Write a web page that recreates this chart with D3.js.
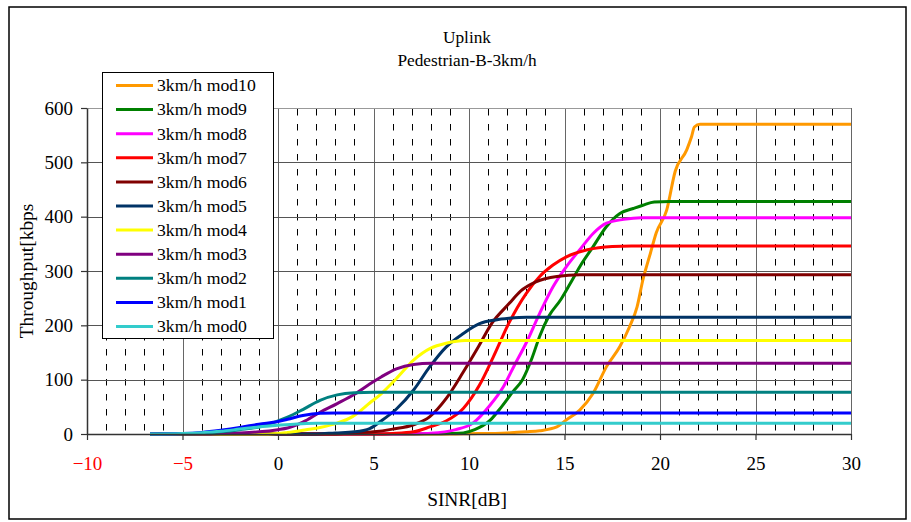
<!DOCTYPE html>
<html>
<head>
<meta charset="utf-8">
<script src="https://cdn.jsdelivr.net/npm/d3@7"></script>
<style>
  body { margin: 0; background: #fff; }
  svg text { font-family: "Liberation Serif", "Times New Roman", serif; }
</style>
</head>
<body>
<div id="chart-area"></div>
<script>
// series data: [SINR dB, throughput kbps]
const mod10 = [[-6.7,0],[9,0],[10,0.5],[12,2],[13,4],[13.7,6],[14.6,13],[15.1,26],[15.8,44],[16.5,75],[17.2,124],[17.9,161],[18.4,197],[18.8,234],[19.1,283],[19.5,333],[19.8,370],[20.35,412],[20.8,484],[21.4,523],[21.65,547],[21.8,565],[22.1,570],[30,570]];
const mod9 = [[-6.7,0],[7,0],[8,0.5],[9,1],[9.7,2],[10.3,8],[11.1,25],[11.7,50],[12.3,78],[12.8,100],[13.3,140],[13.7,180],[14.2,218],[14.8,247],[15.3,277],[15.8,308],[16.5,345],[17.2,382],[17.9,406],[18.6,415],[19.1,421],[19.7,427],[20.5,428],[30,428]];
const mod8 = [[-6.7,0],[6,0],[7,0.5],[8,1.5],[9.3,8],[10.2,20],[11.1,53],[11.8,87],[12.4,128],[13,168],[13.7,222],[14.4,271],[15.1,308],[15.8,339],[16.5,369],[17.2,388],[18.1,395],[19,398],[30,398]];
const mod7 = [[-6.7,0],[5,0],[6,1],[7.1,4],[7.95,13],[8.8,24],[9.7,47],[10.55,90],[11.25,140],[12.1,205],[13,259],[13.7,290],[14.4,311],[15.1,326],[16.2,339],[17.5,345],[18.5,346],[30,346]];
const mod6 = [[-6.7,0],[3,0],[4,2],[5,4],[6,9],[7.1,17],[7.95,32],[8.8,65],[9.7,114],[10.5,161],[11.2,204],[12.1,240],[12.7,263],[13.5,280],[14.6,290],[15.8,293],[30,293]];
const mod5 = [[-6.7,0],[2,0],[3,2],[4,4],[4.8,10],[5.4,24],[6.2,46],[7.1,81],[7.95,124],[8.8,160],[9.7,185],[10.55,203],[11.4,210],[12.1,213],[13,215],[30,215]];
const mod4 = [[-6.7,0],[-1,0],[0,1],[0.5,3],[1.3,7],[2.2,12],[3.1,20],[3.9,32],[4.8,57],[5.4,74],[6.2,102],[7.1,136],[8,158],[8.8,167],[9.8,172],[30,172]];
const mod3 = [[-6.7,0],[-4,0],[-3,1],[-2,2],[-1,4],[0,8],[0.5,11],[1.3,22],[2.2,40],[3.1,56],[4,73],[4.8,92],[5.4,105],[6.2,120],[7.1,128],[8,130],[30,130]];
const mod2 = [[-6.7,0],[-5,0.5],[-4,1],[-3,4],[-2,8],[-1,13],[0,24],[0.5,31],[1.3,45],[2.2,62],[3.1,72],[4,76],[5,77],[30,77]];
const mod1 = [[-6.7,0],[-5,1],[-4,3],[-3,7],[-2,12],[-1,18],[0,23],[0.5,27],[1.3,34],[2.2,38],[3,38.5],[30,38.5]];
const mod0 = [[-6.7,0],[-5,1],[-4,2.5],[-3,5],[-2,9],[-1,13],[0,16],[1,18.5],[2,19.7],[3,20],[30,20]];

const seriesNames = ["3km/h mod10","3km/h mod9","3km/h mod8","3km/h mod7","3km/h mod6","3km/h mod5","3km/h mod4","3km/h mod3","3km/h mod2","3km/h mod1","3km/h mod0"];
const seriesColors = ["#FF9900","#008000","#FF00FF","#FF0000","#800000","#003366","#FFFF00","#800080","#008080","#0000FF","#33CCCC"];
const seriesData = [mod10, mod9, mod8, mod7, mod6, mod5, mod4, mod3, mod2, mod1, mod0];

const xTicks = [-10,-5,0,5,10,15,20,25,30];
const yTicks = [0,100,200,300,400,500,600];
const redTicks = [-10,-5];

const W = 911, H = 522;
const plot = {left: 87, right: 851, top: 108, bottom: 434};

let svg = d3.select("#chart-area")
    .append("svg")
    .attr("width", W)
    .attr("height", H);

svg.append("rect").attr("width", W).attr("height", H).attr("fill", "#fff");

// outer chart frame
svg.append("rect")
    .attr("x", 9).attr("y", 7)
    .attr("width", 897).attr("height", 512)
    .attr("fill", "none").attr("stroke", "#000").attr("stroke-width", 1.5);

let x = d3.scaleLinear().domain([-10, 30]).range([plot.left, plot.right]);
let y = d3.scaleLinear().domain([0, 600]).range([plot.bottom, plot.top]);

// minor dashed verticals at every dB
let minor = d3.range(-9, 30).filter(d => d % 5 !== 0);
svg.append("g").selectAll("line")
    .data(minor).enter().append("line")
    .attr("x1", d => Math.round(x(d)) + 0.5).attr("x2", d => Math.round(x(d)) + 0.5)
    .attr("y1", y(600) + 1).attr("y2", y(0))
    .attr("stroke", "#000").attr("stroke-width", 1)
    .attr("stroke-dasharray", "6.5,8.5");

// major verticals
svg.append("g").selectAll("line")
    .data(xTicks.slice(1)).enter().append("line")
    .attr("x1", d => Math.round(x(d)) + 0.5).attr("x2", d => Math.round(x(d)) + 0.5)
    .attr("y1", y(600)).attr("y2", y(0))
    .attr("stroke", "#666").attr("stroke-width", 1);

// horizontal grid
svg.append("g").selectAll("line")
    .data(yTicks.slice(1)).enter().append("line")
    .attr("x1", x(-10)).attr("x2", x(30))
    .attr("y1", d => Math.round(y(d)) + 0.5).attr("y2", d => Math.round(y(d)) + 0.5)
    .attr("stroke", d => d === 600 ? "#999" : "#555").attr("stroke-width", 1);

// curves
let line = d3.line()
    .x(d => x(d[0]))
    .y(d => y(d[1]))
    .curve(d3.curveMonotoneX);

svg.append("g").selectAll("path")
    .data(seriesData).enter().append("path")
    .attr("d", line)
    .attr("fill", "none")
    .attr("stroke", (d, i) => seriesColors[i])
    .attr("stroke-width", 3)
    .attr("stroke-linejoin", "round");

// axes
let xAxis = svg.append("g")
    .attr("transform", "translate(0," + y(0) + ")")
    .call(d3.axisBottom(x).tickValues(xTicks).tickSize(6).tickSizeOuter(0).tickPadding(17));
let yAxis = svg.append("g")
    .attr("transform", "translate(" + x(-10) + ",0)")
    .call(d3.axisLeft(y).tickValues(yTicks).tickSize(6).tickSizeOuter(0).tickPadding(8));

[xAxis, yAxis].forEach(a => {
    a.attr("font-family", null);
    a.select(".domain").attr("stroke", "#333").attr("stroke-width", 1.5);
    a.selectAll(".tick line").attr("stroke", "#333").attr("stroke-width", 1.2);
    a.selectAll(".tick text")
        .attr("font-size", 19)
        .attr("fill", "#000");
});
xAxis.selectAll(".tick text").attr("fill", d => redTicks.includes(d) ? "#FF0000" : "#000");

// titles
svg.append("text").attr("x", 467).attr("y", 43)
    .attr("text-anchor", "middle").attr("font-size", 17.3).text("Uplink");
svg.append("text").attr("x", 467).attr("y", 66)
    .attr("text-anchor", "middle").attr("font-size", 17.3).text("Pedestrian-B-3km/h");
svg.append("text").attr("x", 467).attr("y", 506)
    .attr("text-anchor", "middle").attr("font-size", 19.4).text("SINR[dB]");
svg.append("text")
    .attr("transform", "translate(33," + ((plot.top + plot.bottom) / 2) + ") rotate(-90)")
    .attr("text-anchor", "middle").attr("font-size", 19.4).text("Throughput[kbps");

// legend
let legend = svg.append("g");
legend.append("rect")
    .attr("x", 102.5).attr("y", 72.5)
    .attr("width", 171).attr("height", 266)
    .attr("fill", "#fff").attr("stroke", "#000").attr("stroke-width", 1);

let rows = legend.selectAll("g.row")
    .data(seriesNames).enter().append("g")
    .attr("class", "row")
    .attr("transform", (d, i) => "translate(0," + (85.5 + i * 24.1) + ")");
rows.append("line")
    .attr("x1", 116).attr("x2", 153)
    .attr("stroke", (d, i) => seriesColors[i]).attr("stroke-width", 3);
rows.append("text")
    .attr("x", 157).attr("dy", "0.33em")
    .attr("font-size", 17.7)
    .text(d => d);
</script>
</body>
</html>
